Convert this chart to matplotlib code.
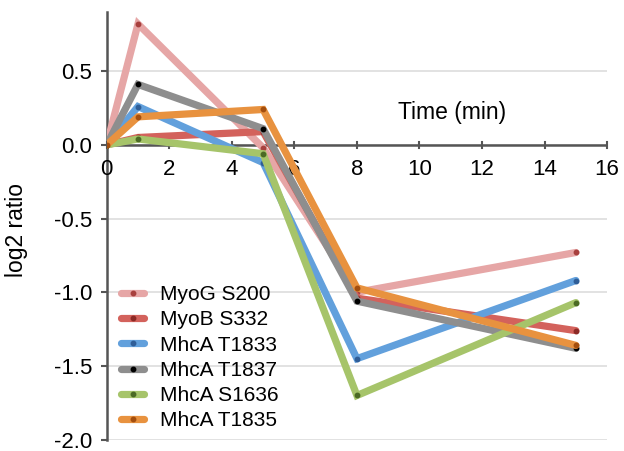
import numpy as np
import matplotlib
matplotlib.use("Agg")
import matplotlib.pyplot as plt

plt.rcParams['font.family'] = ['Liberation Sans', 'DejaVu Sans']

# time points (min)
time = [0, 1, 5, 8, 15]

# log2 ratios
myog_s200 = [0.0, 0.82, -0.02, -1.00, -0.73]
myob_s332 = [0.0, 0.05, 0.09, -1.04, -1.26]
mhca_t1833 = [0.0, 0.26, -0.12, -1.45, -0.92]
mhca_t1837 = [0.0, 0.41, 0.11, -1.06, -1.38]
mhca_s1636 = [0.0, 0.04, -0.06, -1.70, -1.07]
mhca_t1835 = [0.0, 0.19, 0.24, -0.97, -1.36]

labels = ["MyoG S200", "MyoB S332", "MhcA T1833", "MhcA T1837", "MhcA S1636", "MhcA T1835"]
series = [myog_s200, myob_s332, mhca_t1833, mhca_t1837, mhca_s1636, mhca_t1835]
line_colors = ["#E6A6A6", "#D3625C", "#62A0DC", "#8E8E8E", "#A6C46A", "#E8923F"]
dot_colors = ["#A8403E", "#8C2A26", "#2F5E98", "#000000", "#4B6A24", "#A34E0E"]

fig = plt.figure(figsize=(6.24, 4.51), dpi=100)
ax = fig.add_axes([0.171, 0.025, 0.802, 0.948])

for i in range(len(series)):
    ax.plot(time, series[i], color=line_colors[i], lw=5.2, solid_capstyle='round',
            solid_joinstyle='miter', marker='o', ms=3.2, mfc=dot_colors[i],
            mec=dot_colors[i], label=labels[i], zorder=3 + i)

ax.set_xlim(0, 16)
ax.set_ylim(-2.0, 0.9)
ax.set_yticks(np.arange(-2.0, 0.51, 0.5))
ax.set_yticklabels([f"{v:.1f}" for v in np.arange(-2.0, 0.51, 0.5)])
ax.set_xticks(range(0, 17, 2))

# horizontal grid
ax.grid(axis='y', color='#DDDDDD', lw=1.2, zorder=0)
ax.set_axisbelow(True)

# x axis through zero
for s in ['top', 'right', 'bottom']:
    ax.spines[s].set_visible(False)
ax.spines['left'].set_color('#555555')
ax.spines['left'].set_linewidth(1.8)
ax.axhline(0, color='#555555', lw=1.8, zorder=2)

ax.tick_params(axis='y', direction='out', length=4.5, width=1.5, color='#555555',
               labelsize=16, pad=6)
ax.tick_params(axis='x', bottom=False, labelbottom=False)
for t in range(0, 17, 2):
    ax.plot([t, t], [-0.018, 0.018], color='#555555', lw=1.5, zorder=2, clip_on=False)
    ax.text(t, -0.17, str(t), ha='center', va='center', fontsize=16)

ax.text(11.05, 0.22, "Time (min)", ha='center', va='center', fontsize=16.5)
ax.set_ylabel("log2 ratio", fontsize=16.5)
ax.yaxis.set_label_coords(-0.158, 0.49)

leg = ax.legend(loc='lower left', bbox_to_anchor=(0.029, 0.022), frameon=False,
                fontsize=15, handlelength=1.1, handletextpad=0.75, labelspacing=0.3,
                borderaxespad=0, borderpad=0)

fig.savefig("out.png", dpi=100)
